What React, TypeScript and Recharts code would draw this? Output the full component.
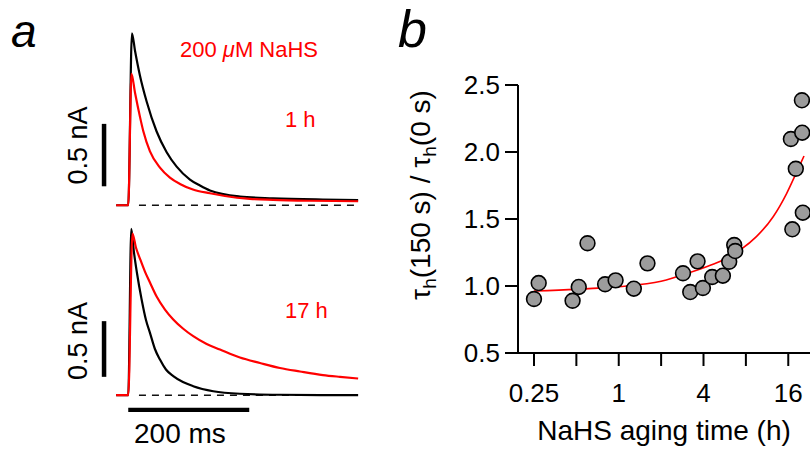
import React from 'react';
import {
  LineChart,
  Line,
  ComposedChart,
  Scatter,
  XAxis,
  YAxis,
  ReferenceLine,
} from 'recharts';

// panel a: currents, t in ms from the step, i in nA
const topBlack = [
  { t: -20, i: 0 }, { t: 0, i: 0 }, { t: 6.1, i: 1.378 }, { t: 11.1, i: 1.24 },
  { t: 19.3, i: 1.04 }, { t: 30.4, i: 0.831 }, { t: 46.9, i: 0.591 }, { t: 63.5, i: 0.425 },
  { t: 80, i: 0.31 }, { t: 102, i: 0.206 }, { t: 118.5, i: 0.158 }, { t: 135, i: 0.118 },
  { t: 184.6, i: 0.07 }, { t: 239.2, i: 0.056 }, { t: 321.8, i: 0.046 }, { t: 380, i: 0.042 },
];
const topRed = [
  { t: -20, i: 0 }, { t: 0, i: 0 }, { t: 5.3, i: 1.053 }, { t: 11.1, i: 0.903 },
  { t: 19.3, i: 0.71 }, { t: 24.8, i: 0.595 }, { t: 35.9, i: 0.432 }, { t: 52.4, i: 0.302 },
  { t: 68.9, i: 0.222 }, { t: 85.5, i: 0.171 }, { t: 106.9, i: 0.126 }, { t: 135, i: 0.096 },
  { t: 159.8, i: 0.074 }, { t: 201.2, i: 0.051 }, { t: 239.2, i: 0.043 }, { t: 300.3, i: 0.036 },
  { t: 380, i: 0.032 },
];
const botBlack = [
  { t: -20, i: 0 }, { t: 0, i: 0 }, { t: 5, i: 1.494 }, { t: 9.4, i: 1.285 },
  { t: 14.4, i: 1.097 }, { t: 22.1, i: 0.859 }, { t: 29.3, i: 0.675 }, { t: 35.9, i: 0.56 },
  { t: 44.1, i: 0.415 }, { t: 52.4, i: 0.32 }, { t: 62.3, i: 0.231 }, { t: 74.4, i: 0.171 },
  { t: 90.4, i: 0.118 }, { t: 107.4, i: 0.081 }, { t: 140.5, i: 0.036 }, { t: 184.6, i: 0.013 },
  { t: 250.7, i: 0.004 }, { t: 380, i: 0 },
];
const botRed = [
  { t: -20, i: 0 }, { t: 0, i: 0 }, { t: 6.9, i: 1.452 }, { t: 12.7, i: 1.326 },
  { t: 19.3, i: 1.227 }, { t: 27.6, i: 1.11 }, { t: 35.9, i: 1.012 }, { t: 46.9, i: 0.886 },
  { t: 60.7, i: 0.769 }, { t: 74.4, i: 0.68 }, { t: 90.4, i: 0.599 }, { t: 107.4, i: 0.53 },
  { t: 129.6, i: 0.46 }, { t: 151.6, i: 0.41 }, { t: 184.6, i: 0.338 }, { t: 217.7, i: 0.289 },
  { t: 250.7, i: 0.244 }, { t: 283.8, i: 0.213 }, { t: 321.8, i: 0.181 }, { t: 349.9, i: 0.165 },
  { t: 380, i: 0.15 },
];

// scale bars
const barT = -40;
const topBarFrom = 0.152;
const botBarFrom = 0.165;
const barNA = 0.5;
const barMs = 200;
const barMsY = -0.131;
const dashFrom = 17.7;
const dashTo = 380;

// panel b: NaHS aging time (h) vs tau ratio
const agingTime = [
  0.25, 0.27, 0.47, 0.52, 0.6, 0.8, 0.95, 1.28, 1.6, 2.86, 3.22, 3.63,
  3.96, 4.61, 5.49, 6.09, 6.61, 6.72, 16.7, 20.1, 20.0, 18.1, 20.3, 17.1,
];
const tauRatio = [
  0.903, 1.022, 0.89, 0.993, 1.319, 1.013, 1.042, 0.98, 1.169, 1.095, 0.955, 1.184,
  0.985, 1.067, 1.077, 1.181, 1.306, 1.261, 2.097, 2.144, 2.386, 1.875, 1.547, 1.423,
];
const fitTime = [0.25, 0.5, 1, 2, 3.2, 4.2, 5.5, 7.3, 9.5, 12.5, 15.6, 18.4, 20.7];
const fitRatio = [0.963, 0.975, 0.995, 1.035, 1.1, 1.144, 1.194, 1.269, 1.368, 1.517, 1.692, 1.853, 1.97];

const xTicks = [0.25, 0.5, 1, 2, 4, 8, 16];
const xTickLabels: Record<number, string> = { 0.25: '0.25', 1: '1', 4: '4', 16: '16' };
const yTicks = [0.5, 1, 1.5, 2, 2.5];

const points = agingTime.map((x, k) => ({ x, y: tauRatio[k] }));
const fit = fitTime.map((x, k) => ({ x, y: fitRatio[k] }));

const FONT = '"Liberation Sans", Arial, Helvetica, sans-serif';
const RED = '#ff0000';
const T_DOMAIN: [number, number] = [-50, 390];
const TRACE_LEFT = 98.05;
const TRACE_W = 266.2;

const Dot = (props: any) => (
  <circle cx={props.cx} cy={props.cy} r={7.4} fill="#9c9c9c" stroke="#000" strokeWidth={1.6} />
);

export default function App() {
  return (
    <div style={{ position: 'absolute', left: 0, top: 0, width: 810, height: 454, background: '#fff', fontFamily: FONT }}>
      {/* top traces, 1 h */}
      <div style={{ position: 'absolute', left: TRACE_LEFT, top: 17.5 }}>
        <LineChart width={TRACE_W} height={206} margin={{ top: 0, right: 0, bottom: 0, left: 0 }}>
          <XAxis type="number" dataKey="t" domain={T_DOMAIN} hide allowDataOverflow />
          <YAxis type="number" domain={[-0.15, 1.5]} hide allowDataOverflow />
          <ReferenceLine segment={[{ x: dashFrom, y: 0 }, { x: dashTo, y: 0 }]} stroke="#111" strokeWidth={1.5} strokeDasharray="7 6" />
          <ReferenceLine segment={[{ x: barT, y: topBarFrom }, { x: barT, y: topBarFrom + barNA }]} stroke="#000" strokeWidth={4.5} />
          <Line data={topBlack} dataKey="i" type="monotone" stroke="#000" strokeWidth={2.2} dot={false} isAnimationActive={false} />
          <Line data={topRed} dataKey="i" type="monotone" stroke={RED} strokeWidth={2.2} dot={false} isAnimationActive={false} />
        </LineChart>
      </div>

      {/* bottom traces, 17 h */}
      <div style={{ position: 'absolute', left: TRACE_LEFT, top: 217.46 }}>
        <LineChart width={TRACE_W} height={200.5} margin={{ top: 0, right: 0, bottom: 0, left: 0 }}>
          <XAxis type="number" dataKey="t" domain={T_DOMAIN} hide allowDataOverflow />
          <YAxis type="number" domain={[-0.2, 1.6]} hide allowDataOverflow />
          <ReferenceLine segment={[{ x: dashFrom, y: 0 }, { x: dashTo, y: 0 }]} stroke="#111" strokeWidth={1.5} strokeDasharray="7 6" />
          <ReferenceLine segment={[{ x: barT, y: botBarFrom }, { x: barT, y: botBarFrom + barNA }]} stroke="#000" strokeWidth={4.5} />
          <ReferenceLine segment={[{ x: 0, y: barMsY }, { x: barMs, y: barMsY }]} stroke="#000" strokeWidth={4.3} />
          <Line data={botBlack} dataKey="i" type="monotone" stroke="#000" strokeWidth={2.2} dot={false} isAnimationActive={false} />
          <Line data={botRed} dataKey="i" type="monotone" stroke={RED} strokeWidth={2.2} dot={false} isAnimationActive={false} />
        </LineChart>
      </div>

      {/* panel b */}
      <div style={{ position: 'absolute', left: 400, top: 0 }}>
        <ComposedChart width={410} height={454} margin={{ top: 85, right: 0, bottom: 0, left: 0 }}>
          <XAxis
            type="number"
            dataKey="x"
            scale="log"
            domain={[0.1925, 22.83]}
            allowDataOverflow
            ticks={xTicks}
            interval={0}
            tickFormatter={(v: number) => xTickLabels[v] ?? ''}
            height={101}
            tickSize={13}
            tickMargin={18}
            axisLine={{ stroke: '#000', strokeWidth: 2 }}
            tickLine={{ stroke: '#000', strokeWidth: 2 }}
            tick={{ fontSize: 26, fill: '#000' }}
          />
          <YAxis
            type="number"
            dataKey="y"
            domain={[0.5, 2.5]}
            allowDataOverflow
            ticks={yTicks}
            interval={0}
            tickFormatter={(v: number) => v.toFixed(1)}
            width={118}
            tickSize={13}
            tickMargin={5}
            axisLine={{ stroke: '#000', strokeWidth: 2 }}
            tickLine={{ stroke: '#000', strokeWidth: 2 }}
            tick={{ fontSize: 26, fill: '#000' }}
          />
          <Scatter data={points} dataKey="y" shape={Dot} isAnimationActive={false} />
          <Line data={fit} dataKey="y" type="monotone" stroke={RED} strokeWidth={1.6} dot={false} isAnimationActive={false} />
        </ComposedChart>
      </div>

      {/* text */}
      <svg width={810} height={454} style={{ position: 'absolute', left: 0, top: 0, pointerEvents: 'none' }} fontFamily={FONT}>
        <text x={11} y={47} fontSize={46} fontStyle="italic">a</text>
        <text x={398} y={47} fontSize={52} fontStyle="italic">b</text>
        <text x={180} y={57} fontSize={22} fill={RED}>
          200 <tspan fontStyle="italic">μ</tspan>M NaHS
        </text>
        <text x={285} y={126.5} fontSize={22} fill={RED}>1 h</text>
        <text x={285} y={317.5} fontSize={22} fill={RED}>17 h</text>
        <text transform="translate(87,145.5) rotate(-90)" textAnchor="middle" fontSize={27}>0.5 nA</text>
        <text transform="translate(87,341) rotate(-90)" textAnchor="middle" fontSize={27}>0.5 nA</text>
        <text x={134} y={443.3} fontSize={28}>200 ms</text>
        <text x={664} y={440} textAnchor="middle" fontSize={28}>NaHS aging time (h)</text>
        <text transform="translate(430,195) rotate(-90)" textAnchor="middle" fontSize={28}>
          τ<tspan dy={6} fontSize={19}>h</tspan>
          <tspan dy={-6}>(150 s) / τ</tspan>
          <tspan dy={6} fontSize={19}>h</tspan>
          <tspan dy={-6}>(0 s)</tspan>
        </text>
      </svg>
    </div>
  );
}
